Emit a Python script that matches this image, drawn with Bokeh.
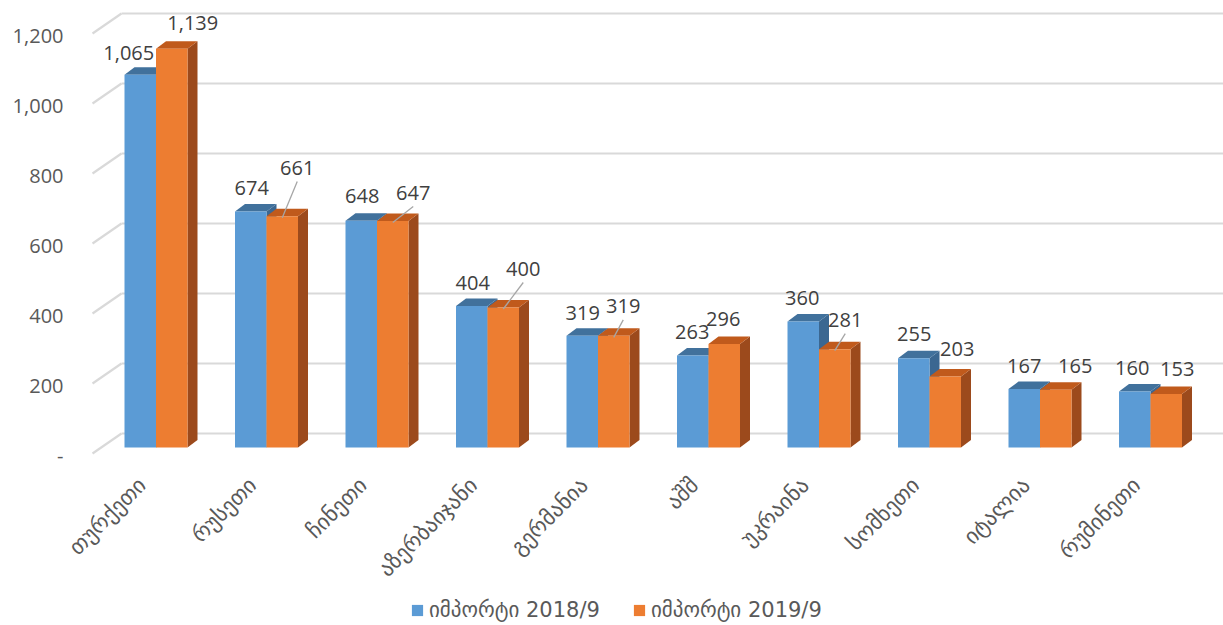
import numpy as np
from bokeh.plotting import figure
from bokeh.models import Range1d, ColumnDataSource, Legend, LegendItem
from bokeh.core.properties import value
from bokeh.embed import file_html
from bokeh.resources import INLINE

# ---------------- data ----------------
categories = ["თურქეთი", "რუსეთი", "ჩინეთი", "აზერბაიჯანი", "გერმანია",
              "აშშ", "უკრაინა", "სომხეთი", "იტალია", "რუმინეთი"]
import_2018 = [1065, 674, 648, 404, 319, 263, 360, 255, 167, 160]
import_2019 = [1139, 661, 647, 400, 319, 296, 281, 203, 165, 153]
series_names = ["იმპორტი 2018/9", "იმპორტი 2019/9"]
y_ticks = [0, 200, 400, 600, 800, 1000, 1200]
y_tick_labels = ["-", "200", "400", "600", "800", "1,000", "1,200"]

# ---------------- style / layout (pixels) ----------------
W, H = 1223, 625
PX_X = 110.5          # pixels per category
PX_Y = 0.35           # pixels per value unit
CAT0_PX = 155.5       # screen x of first category centre
ZERO_PX = 447         # screen y of bar base
# data-label nudges (pixels) reproducing the reference's label placement
lab18_dx = [-11.5, 1, 1, 1, 0.5, -0.5, -1, 0.5, 0, -2.5]
lab18_up = [22, 24, 25, 23.6, 23, 23, 24, 24, 23.5, 24]
lab19_dx = [21, 15, 20.5, 20, 9.5, -1, 10.5, 12, 19.5, 11]
lab19_up = [26, 48.6, 28.5, 39, 30, 25.4, 29.6, 27, 24, 24.5]

x0 = -CAT0_PX / PX_X
x1 = x0 + W / PX_X
y0 = -(H - ZERO_PX) / PX_Y
y1 = y0 + H / PX_Y

BW = 31.5 / PX_X      # bar width
BDX = 10 / PX_X       # 3d depth offset
BDY = 7.5 / PX_Y
FRONT_DY = -6 / PX_Y  # front floor edge relative to bars
BACK_DY = 14 / PX_Y   # back wall relative to bars
FRONT_X = (92 - CAT0_PX) / PX_X
BACK_X = (121 - CAT0_PX) / PX_X

BLUE, BLUE_TOP, BLUE_SIDE = "#5B9BD5", "#41719C", "#3B6791"
ORANGE, ORANGE_TOP, ORANGE_SIDE = "#ED7D31", "#C05A1C", "#9C4A1C"
GRID = "#D9D9D9"
TXT = "#595959"

p = figure(width=W, height=H, output_backend="svg", toolbar_location=None,
           x_range=Range1d(x0, x1), y_range=Range1d(y0, y1),
           x_axis_location=None, y_axis_location=None,
           min_border_left=0, min_border_right=0, min_border_top=0,
           min_border_bottom=0, outline_line_color=None)
p.xgrid.visible = False
p.ygrid.visible = False

ticks = np.array(y_ticks, dtype=float)
n_t = len(ticks)
# back wall gridlines and floor/side diagonals
p.segment(x0=[BACK_X] * n_t, y0=ticks + BACK_DY, x1=[x1 + 1] * n_t,
          y1=ticks + BACK_DY, line_color=GRID, line_width=2.2)
p.segment(x0=[FRONT_X] * n_t, y0=ticks + FRONT_DY, x1=[BACK_X] * n_t,
          y1=ticks + BACK_DY, line_color=GRID, line_width=2.2)

# y tick labels (front plane)
ytl = ColumnDataSource(dict(x=[(63 - CAT0_PX) / PX_X] * n_t,
                            y=ticks + FRONT_DY - 2.5 / PX_Y, t=y_tick_labels))
p.text(x="x", y="y", text="t", source=ytl, text_align="right",
       text_baseline="middle", text_font=value("Open Sans"),
       text_font_size="20px", text_color=TXT)

idx = np.arange(len(categories), dtype=float)
v18 = np.array(import_2018, dtype=float)
v19 = np.array(import_2019, dtype=float)


def bar3d(left, vals, front, top, side):
    right = left + BW
    side_xs = [[r, r + BDX, r + BDX, r] for r in right]
    side_ys = [[0, BDY, v + BDY, v] for v in vals]
    top_xs = [[l, l + BW, l + BW + BDX, l + BDX] for l in left]
    top_ys = [[v, v, v + BDY, v + BDY] for v in vals]
    p.patches(side_xs, side_ys, fill_color=side, line_color=None)
    p.patches(top_xs, top_ys, fill_color=top, line_color=None)
    return p.quad(left=left, right=right, bottom=0, top=vals,
                  fill_color=front, line_color=None)


r18 = bar3d(idx - BW, v18, BLUE, BLUE_TOP, BLUE_SIDE)
r19 = bar3d(idx, v19, ORANGE, ORANGE_TOP, ORANGE_SIDE)

# data labels
fmt = lambda v: f"{int(v):,}"
c18 = idx - BW / 2
c19 = idx + BW / 2
lx18 = c18 + np.array(lab18_dx) / PX_X
ly18 = v18 + np.array(lab18_up) / PX_Y
lx19 = c19 + np.array(lab19_dx) / PX_X
ly19 = v19 + np.array(lab19_up) / PX_Y

# leader lines for labels pulled away from their bars
up19 = np.array(lab19_up)
far = up19 >= 28
p.segment(x0=c19[far], y0=v19[far] - 1.5 / PX_Y, x1=lx19[far],
          y1=ly19[far] - 14 / PX_Y, line_color="#A6A6A6", line_width=1.3)

for lx, ly, vals in ((lx18, ly18, v18), (lx19, ly19, v19)):
    src = ColumnDataSource(dict(x=lx, y=ly, t=[fmt(v) for v in vals]))
    p.text(x="x", y="y", text="t", source=src, text_align="center",
           text_baseline="middle", text_font=value("Open Sans"),
           text_font_size="20px", text_color="#404040")

# category labels (rotated, text end anchored under each category)
cat_src = ColumnDataSource(dict(x=idx - 14 / PX_X,
                                y=[-(481 - ZERO_PX) / PX_Y] * len(idx),
                                t=categories))
p.text(x="x", y="y", text="t", source=cat_src, angle=np.pi / 4,
       text_align="right", text_baseline="middle",
       text_font=value("DejaVu Sans"), text_font_size="22px", text_color=TXT)

legend = Legend(items=[LegendItem(label=series_names[0], renderers=[r18]),
                       LegendItem(label=series_names[1], renderers=[r19])],
                orientation="horizontal", location=(410, 3))
legend.glyph_width = 14
legend.glyph_height = 14
legend.label_text_font = "DejaVu Sans"
legend.label_text_font_size = "21px"
legend.label_text_color = TXT
legend.label_standoff = 5
legend.spacing = 32
legend.padding = 0
legend.margin = 0
legend.border_line_color = None
legend.background_fill_alpha = 0
p.add_layout(legend)

open("out.html", "w").write(file_html(p, INLINE))
